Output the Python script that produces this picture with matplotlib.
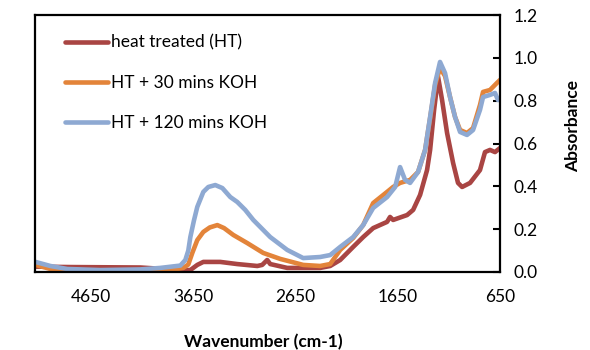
import matplotlib
matplotlib.use("Agg")
import matplotlib.pyplot as plt

plt.rcParams['font.family'] = ['Lato', 'DejaVu Sans']
plt.rcParams['font.size'] = 12.5

# heat treated (HT)
wn_ht = [5195, 4853, 4169, 3778, 3680, 3612, 3553, 3387, 3221, 3025, 2977, 2928, 2898,
         2732, 2410, 2312, 2214, 2087, 1989, 1891, 1755, 1726, 1696, 1559, 1500, 1432,
         1364, 1334, 1295, 1256, 1217, 1168, 1109, 1061, 1021, 943, 846, 797, 748, 699, 650]
abs_ht = [0.025, 0.023, 0.021, 0.009, 0.009, 0.033, 0.047, 0.047, 0.037, 0.028, 0.033, 0.056, 0.037,
          0.019, 0.019, 0.028, 0.056, 0.117, 0.163, 0.205, 0.234, 0.257, 0.243, 0.266, 0.290, 0.360,
          0.476, 0.570, 0.757, 0.911, 0.803, 0.649, 0.509, 0.416, 0.397, 0.416, 0.476, 0.560, 0.570, 0.560, 0.579]

# HT + 30 mins KOH
wn_30 = [5195, 5049, 4883, 4169, 3876, 3749, 3700, 3660, 3612, 3553, 3490, 3416, 3350, 3260, 3123, 2967, 2800,
         2576, 2410, 2312, 2214, 2087, 1989, 1891, 1755, 1696, 1628, 1530, 1452, 1383, 1334,
         1285, 1237, 1188, 1139, 1090, 1041, 973, 914, 846, 816, 748, 680, 650]
abs_30 = [0.033, 0.014, 0.005, 0.005, 0.009, 0.019, 0.035, 0.090, 0.149, 0.187, 0.208, 0.219, 0.205, 0.173, 0.135, 0.089, 0.061,
          0.033, 0.028, 0.037, 0.103, 0.159, 0.219, 0.322, 0.374, 0.397, 0.416, 0.430, 0.467, 0.570, 0.719,
          0.874, 0.953, 0.915, 0.817, 0.724, 0.663, 0.649, 0.672, 0.780, 0.841, 0.850, 0.883, 0.897]

# HT + 120 mins KOH
wn_120 = [5195, 5049, 4883, 4560, 4169, 3974, 3778, 3729, 3700, 3680, 3645, 3612, 3553, 3504, 3436, 3367,
          3289, 3221, 3143, 3064, 2898, 2732, 2576, 2410, 2312, 2214, 2087, 1989, 1891, 1755, 1676, 1628, 1579,
          1530, 1452, 1383, 1334, 1285, 1237, 1188, 1139, 1090, 1041, 973, 914, 846, 816, 748, 699, 670]
abs_120 = [0.047, 0.028, 0.014, 0.009, 0.012, 0.019, 0.030, 0.056, 0.100, 0.163, 0.240, 0.304, 0.374, 0.397, 0.406, 0.392,
           0.350, 0.327, 0.290, 0.243, 0.163, 0.103, 0.065, 0.070, 0.079, 0.117, 0.163, 0.219, 0.299, 0.350, 0.397, 0.490, 0.430,
           0.416, 0.467, 0.570, 0.724, 0.883, 0.981, 0.929, 0.817, 0.724, 0.654, 0.640, 0.663, 0.757, 0.817, 0.827, 0.836, 0.803]

xticks = [4650, 3650, 2650, 1650, 650]
yticks = [0.0, 0.2, 0.4, 0.6, 0.8, 1.0, 1.2]

fig = plt.figure(figsize=(5.9, 3.5), dpi=100)
ax = fig.add_axes([0.0593, 0.2229, 0.7882, 0.7341])

kw = dict(lw=3.3, solid_capstyle='round', solid_joinstyle='round')
ax.plot(wn_ht, abs_ht, color='#A94543', label='heat treated (HT)', **kw)
ax.plot(wn_30, abs_30, color='#E3843A', label='HT + 30 mins KOH', **kw)
ax.plot(wn_120, abs_120, color='#8EA9D2', label='HT + 120 mins KOH', **kw)

ax.set_xlim(5200, 650)
ax.set_ylim(0, 1.2)
ax.set_xticks(xticks)
ax.set_yticks(yticks)
ax.set_yticklabels(['%.1f' % v for v in yticks])
ax.yaxis.tick_right()
ax.yaxis.set_label_position('right')
ax.tick_params(axis='y', direction='in', length=5, width=1.5, pad=10)
ax.tick_params(axis='x', length=0, pad=12)
for s in ax.spines.values():
    s.set_linewidth(1.6)
    s.set_color('black')

ax.set_xlabel('Wavenumber (cm-1)', fontweight='bold')
ax.set_ylabel('Absorbance', fontweight='bold')
ax.xaxis.set_label_coords(0.49, -0.24)
ax.yaxis.set_label_coords(1.14, 0.57)

ax.legend(loc='upper left', bbox_to_anchor=(0.03, 0.985), frameon=False,
          handlelength=2.5, handletextpad=0.15, labelspacing=1.4)

fig.savefig('out.png', dpi=100)
